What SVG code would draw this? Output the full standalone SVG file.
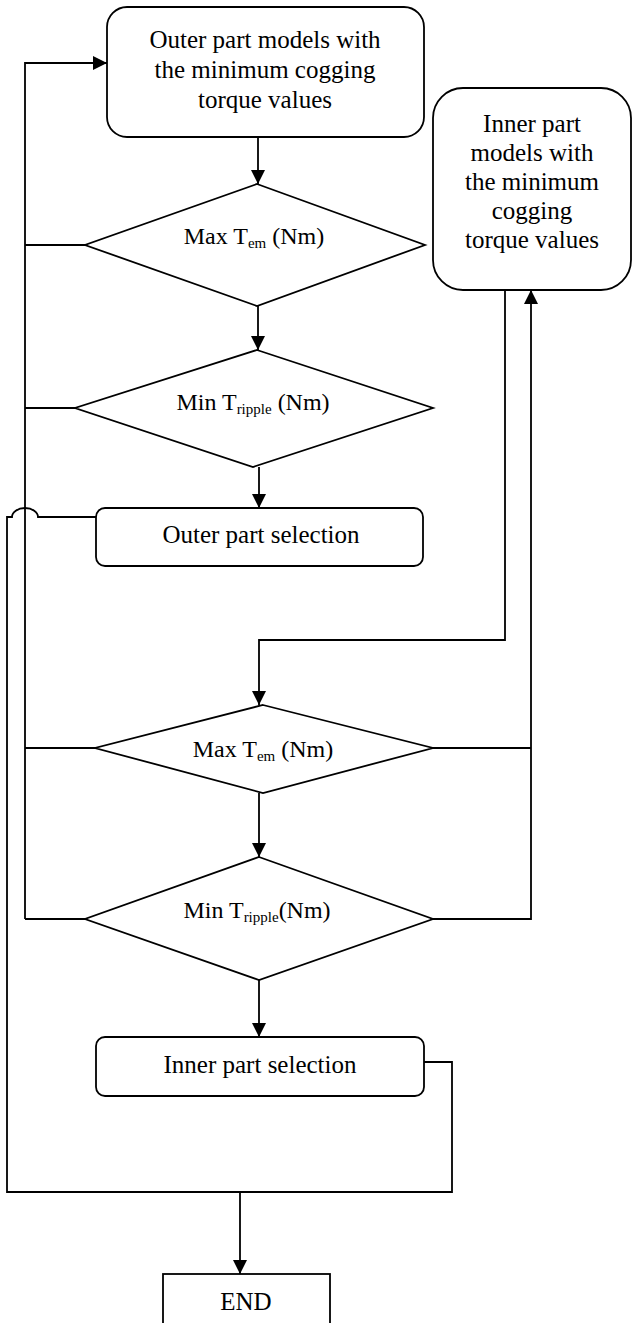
<svg xmlns="http://www.w3.org/2000/svg" width="632" height="1323" viewBox="0 0 632 1323">
<defs>
<marker id="arr" markerUnits="userSpaceOnUse" markerWidth="14" markerHeight="16" viewBox="0 0 14 16" refX="14" refY="7" orient="auto">
<path d="M0,0 L14,7 L0,14 Z" fill="#000"/>
</marker>
</defs>
<style>
.n{fill:#fff;stroke:#000;stroke-width:1.8}
.c{fill:none;stroke:#000;stroke-width:1.8}
.a{marker-end:url(#arr)}
text{font-family:"Liberation Serif","Times New Roman",serif;fill:#000;text-anchor:middle}
.t{font-size:25px}
.d{font-size:24px}
.s{font-size:15px}
</style>
<rect width="632" height="1323" fill="#fff"/>
<g id="connectors">
<path class="c a" d="M258,137 V184"/>
<path class="c a" d="M258,306 V350"/>
<path class="c a" d="M259,467 V508"/>
<path class="c" d="M85,245 H25"/>
<path class="c" d="M75,408 H25"/>
<path class="c" d="M95,748 H25"/>
<path class="c" d="M85,919 H25"/>
<path class="c a" d="M25,919 V63 H107"/>
<path class="c a" d="M505,290 V640 H259 V705"/>
<path class="c" d="M433,748 H531"/>
<path class="c a" d="M433,919 H531 V290"/>
<path class="c a" d="M259,793 V857"/>
<path class="c a" d="M259,980 V1037"/>
<path class="c" d="M96,517 H38 A13,9 0 0 0 12,517 H7 V1192 H452 V1062 H424"/>
<path class="c a" d="M240,1192 V1274"/>
</g>
<g id="outer-models">
<rect class="n" x="107" y="7" width="317" height="130" rx="20"/>
<text class="t" x="265" y="48">Outer part models with</text>
<text class="t" x="265" y="78">the minimum cogging</text>
<text class="t" x="265" y="108">torque values</text>
</g>
<g id="inner-models">
<rect class="n" x="433" y="88" width="198" height="202" rx="30"/>
<text class="t" x="532" y="132">Inner part</text>
<text class="t" x="532" y="161">models with</text>
<text class="t" x="532" y="190">the minimum</text>
<text class="t" x="532" y="219">cogging</text>
<text class="t" x="532" y="248">torque values</text>
</g>
<g id="max-tem-1">
<polygon class="n" points="257,184 425,245 257,306 85,245"/>
<text class="d" x="254" y="244">Max T<tspan class="s" dy="4">em</tspan><tspan dy="-4"> (Nm)</tspan></text>
</g>
<g id="min-tripple-1">
<polygon class="n" points="257,350 433,408 253,467 75,408"/>
<text class="d" x="253" y="410">Min T<tspan class="s" dy="4">ripple</tspan><tspan dy="-4"> (Nm)</tspan></text>
</g>
<g id="outer-selection">
<rect class="n" x="96" y="508" width="327" height="58" rx="9"/>
<text class="t" x="261" y="543">Outer part selection</text>
</g>
<g id="max-tem-2">
<polygon class="n" points="263,705 433,748 263,793 95,748"/>
<text class="d" x="263" y="757">Max T<tspan class="s" dy="4">em</tspan><tspan dy="-4"> (Nm)</tspan></text>
</g>
<g id="min-tripple-2">
<polygon class="n" points="259,857 433,919 259,980 85,919"/>
<text class="d" x="257" y="918">Min T<tspan class="s" dy="4">ripple</tspan><tspan dy="-4">(Nm)</tspan></text>
</g>
<g id="inner-selection">
<rect class="n" x="96" y="1037" width="328" height="59" rx="9"/>
<text class="t" x="260" y="1073">Inner part selection</text>
</g>
<g id="end">
<rect class="n" x="163" y="1274" width="167" height="60"/>
<text class="t" x="246" y="1310">END</text>
</g>
</svg>
